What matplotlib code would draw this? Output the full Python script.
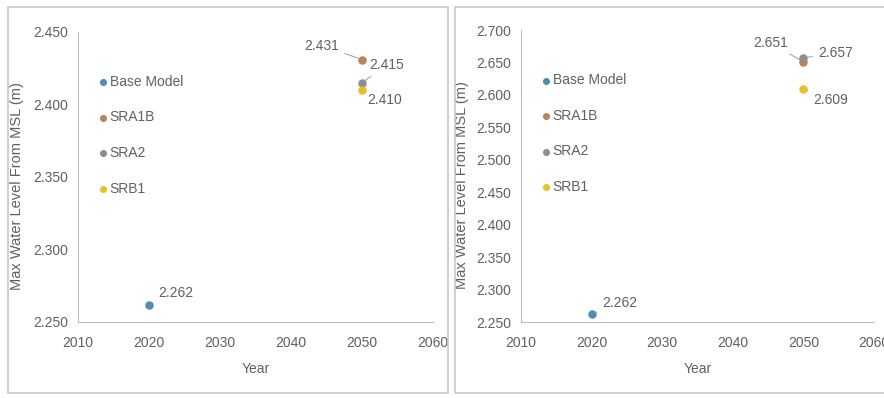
import matplotlib
matplotlib.use('Agg')
import matplotlib.pyplot as plt
from matplotlib.patches import Rectangle

plt.rcParams['font.family'] = ['Liberation Sans', 'DejaVu Sans']

series = ['Base Model', 'SRA1B', 'SRA2', 'SRB1']
colors = ['#4F8DB5', '#B8845A', '#8E8E8E', '#E8C02A']
years = [2020, 2050, 2050, 2050]

left_vals = [2.262, 2.431, 2.415, 2.410]
right_vals = [2.262, 2.651, 2.657, 2.609]

left_ticks = [2.250, 2.300, 2.350, 2.400, 2.450]
right_ticks = [2.250, 2.300, 2.350, 2.400, 2.450, 2.500, 2.550, 2.600, 2.650, 2.700]
x_ticks = [2010, 2020, 2030, 2040, 2050, 2060]

# label offsets in pixels (text centre relative to the point)
left_offsets = [(27, 12), (-40, 14), (25, 18), (23, -10)]
right_offsets = [(28, 11), (-33, 19), (32, 5), (27, -11)]

W, H = 884, 398
fig = plt.figure(figsize=(W / 100, H / 100), dpi=100)
fig.patch.set_facecolor('white')

# panel frames
fig.patches.append(Rectangle((8 / W, 1 - 393 / H), 440 / W, 386 / H, transform=fig.transFigure,
                             fill=False, edgecolor='#C8C8C8', lw=1.2))
fig.patches.append(Rectangle((455 / W, 1 - 393 / H), 440 / W, 386 / H, transform=fig.transFigure,
                             fill=False, edgecolor='#C8C8C8', lw=1.2))

ax1 = fig.add_axes([78 / W, 1 - 322 / H, 355 / W, 290 / H])
ax2 = fig.add_axes([521 / W, 1 - 322 / H, 353 / W, 292 / H])

txt = '#606060'
for ax, vals, ticks, offs, xlab in [(ax1, left_vals, left_ticks, left_offsets, 24),
                                     (ax2, right_vals, right_ticks, right_offsets, 469)]:
    for name, c, x, v, off in zip(series, colors, years, vals, offs):
        ax.scatter([x], [v], s=26, color=c, label=name, zorder=3)
        ax.annotate('%.3f' % v, xy=(x, v), xytext=off, textcoords='offset pixels',
                    ha='center', va='center', fontsize=10, color=txt,
                    arrowprops=dict(arrowstyle='-', color='#A8A8A8', lw=0.8,
                                    shrinkA=2, shrinkB=3))
    ax.set_xlim(2010, 2060)
    ax.set_ylim(ticks[0], ticks[-1])
    ax.set_xticks(x_ticks)
    ax.set_yticks(ticks)
    ax.set_yticklabels(['%.3f' % t for t in ticks])
    ax.tick_params(axis='x', length=0, labelsize=10, colors=txt, pad=10)
    ax.tick_params(axis='y', length=0, labelsize=10, colors=txt, pad=7)
    for s in ['top', 'right']:
        ax.spines[s].set_visible(False)
    ax.spines['left'].set_color('#BFBFBF')
    ax.spines['bottom'].set_color('#BFBFBF')
    ax.set_xlabel('Year', fontsize=10, color=txt, labelpad=9)
    ax.set_ylabel('Max Water Level From MSL (m)', fontsize=10.5, color=txt)
    ax.yaxis.set_label_coords((xlab - ax.get_position().x0 * W) / (ax.get_position().width * W), 0.47)
    leg = ax.legend(loc='upper left', bbox_to_anchor=(0.015, 0.895), frameon=False,
                    fontsize=10, labelspacing=1.55, handletextpad=0.0,
                    handlelength=1.0, markerscale=0.8)
    for t in leg.get_texts():
        t.set_color(txt)

fig.savefig('out.png', dpi=100)
